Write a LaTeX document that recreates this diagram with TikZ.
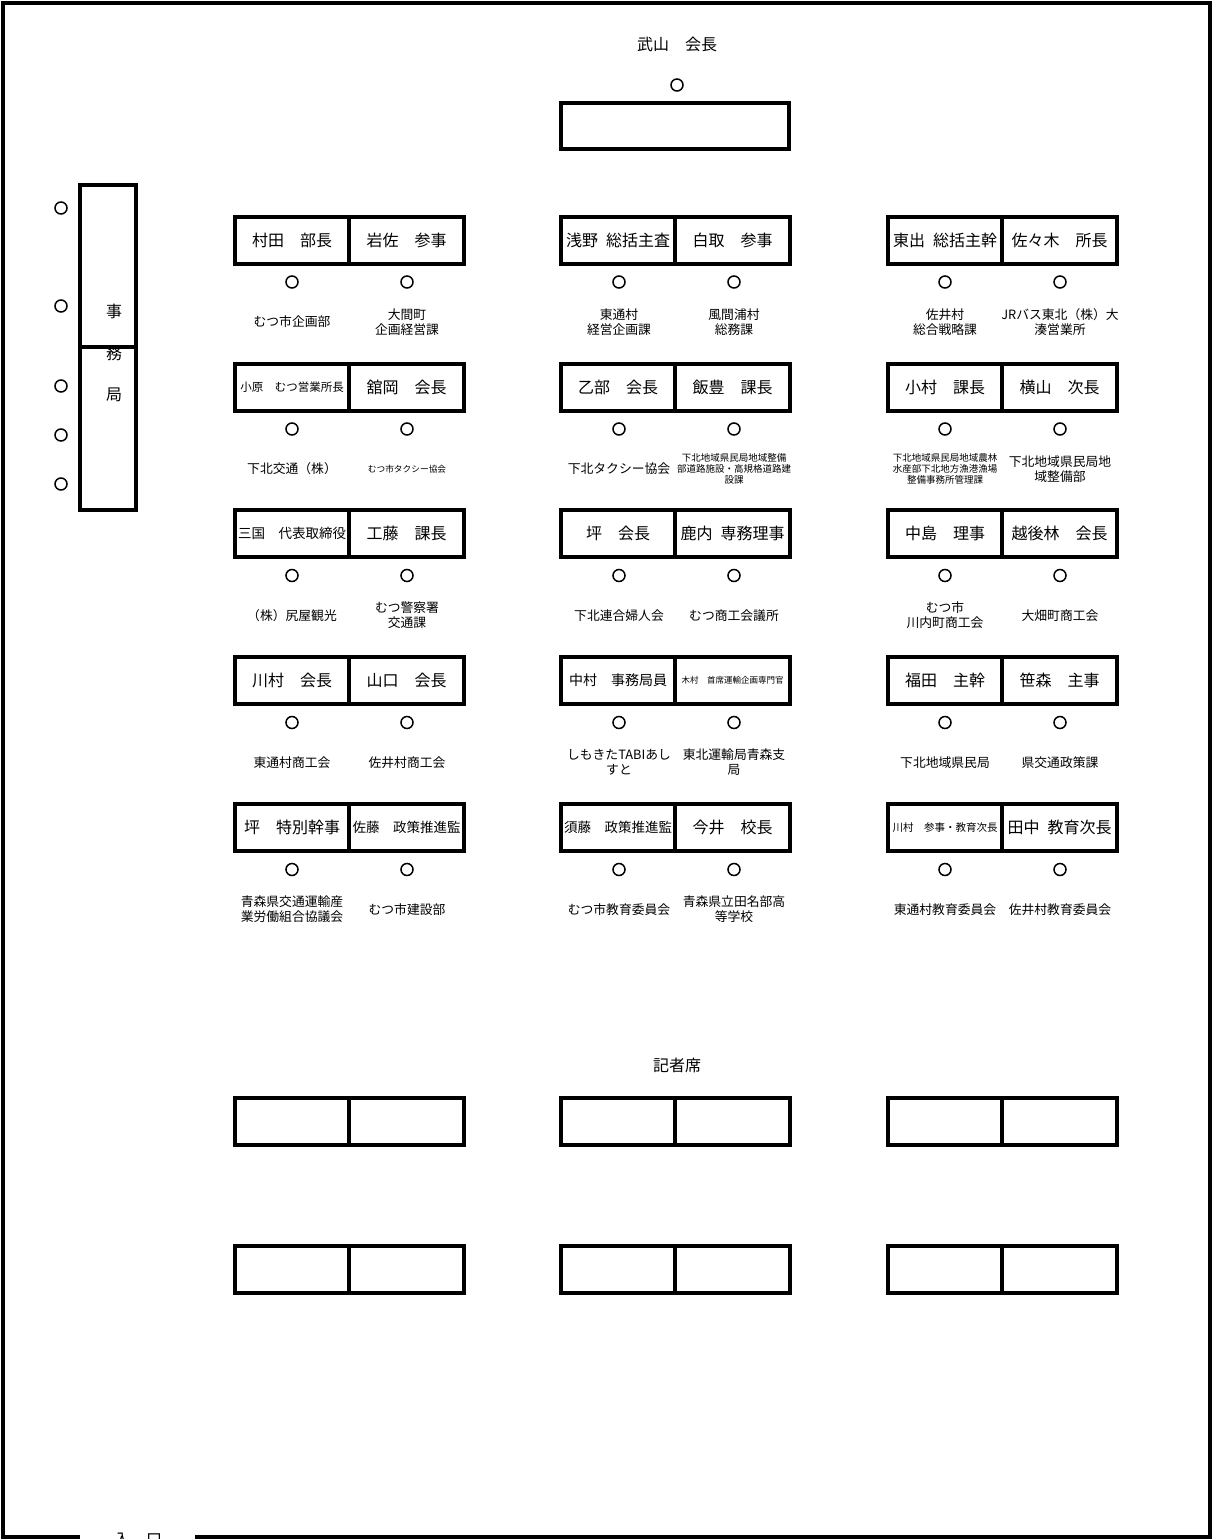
\documentclass[tikz,border=0pt]{standalone}
\usepackage{fontspec}
\setmainfont{Noto Sans CJK JP}
\usepackage{tikz}

\begin{document}
\begin{tikzpicture}[x=1pt,y=-1pt,
  seat/.style={draw,line width=4pt,minimum width=114.5pt,minimum height=47pt,inner sep=0pt,font=\fontsize{16}{19}\selectfont},
  ring/.style={draw,circle,line width=1.5pt,minimum size=12pt,inner sep=0pt},
  org/.style={align=center,inner sep=0pt,font=\fontsize{12.8}{15}\selectfont},
  orgsm/.style={org,font=\fontsize{9.5}{11}\selectfont},
  big/.style={font=\fontsize{16}{19}\selectfont}]

\useasboundingbox (0,0) rectangle (1213,1539);

% Room outline with the door gap
\draw[line width=4pt] (80,1537) -- (3,1537) -- (3,3) -- (1210,3) -- (1210,1537) -- (195,1537);
\node[big] (door) at (138,1540) {入\quad 口};

% Chairman
\node[big] (chairlbl) at (677,44) {武山\quad 会長};
\node[ring] (chairc) at (677,85) {};
\node[draw,line width=4pt,minimum width=228pt,minimum height=46pt] (chair) at (675,126) {};

% Secretariat
\node[big] (je) at (114,311) {事};
\node[big] (mu) at (114,353) {務};
\node[big] (kyoku) at (114,395) {局};
\node[draw,line width=4pt,minimum width=56pt,minimum height=162pt,inner sep=0pt] (office1) at (108.3,265.7) {};
\node[draw,line width=4pt,minimum width=56pt,minimum height=163pt,inner sep=0pt] (office2) at (108.3,428.2) {};
\node[ring] (oc1) at (61,208) {};
\node[ring] (oc2) at (61,306) {};
\node[ring] (oc3) at (61,386) {};
\node[ring] (oc4) at (61,435) {};
\node[ring] (oc5) at (61,484) {};

% Row 1
\node[seat] (L1a) at (292,240) {村田\quad 部長};
\node[seat] (L1b) at (406.5,240) {岩佐\quad 参事};
\node[seat] (M1a) at (618,240) {浅野\enspace 総括主査};
\node[seat] (M1b) at (732.5,240) {白取\quad 参事};
\node[seat] (R1a) at (945,240) {東出\enspace 総括主幹};
\node[seat] (R1b) at (1059.5,240) {佐々木\quad 所長};
\node[ring] (L1ac) at (292,282) {};
\node[ring] (L1bc) at (407,282) {};
\node[ring] (M1ac) at (619,282) {};
\node[ring] (M1bc) at (734,282) {};
\node[ring] (R1ac) at (945,282) {};
\node[ring] (R1bc) at (1060,282) {};
\node[org] (L1ao) at (292,322) {むつ市企画部};
\node[org] (L1bo) at (407,322) {大間町\\企画経営課};
\node[org] (M1ao) at (619,322) {東通村\\経営企画課};
\node[org] (M1bo) at (734,322) {風間浦村\\総務課};
\node[org] (R1ao) at (945,322) {佐井村\\総合戦略課};
\node[org] (R1bo) at (1060,322) {JRバス東北（株）大\\湊営業所};

% Row 2
\node[seat,font=\fontsize{11.5}{14}\selectfont] (L2a) at (292,387) {小原\quad むつ営業所長};
\node[seat] (L2b) at (406.5,387) {舘岡\quad 会長};
\node[seat] (M2a) at (618,387) {乙部\quad 会長};
\node[seat] (M2b) at (732.5,387) {飯豊\quad 課長};
\node[seat] (R2a) at (945,387) {小村\quad 課長};
\node[seat] (R2b) at (1059.5,387) {横山\quad 次長};
\node[ring] (L2ac) at (292,429) {};
\node[ring] (L2bc) at (407,429) {};
\node[ring] (M2ac) at (619,429) {};
\node[ring] (M2bc) at (734,429) {};
\node[ring] (R2ac) at (945,429) {};
\node[ring] (R2bc) at (1060,429) {};
\node[org] (L2ao) at (292,469) {下北交通（株）};
\node[org,font=\fontsize{8.7}{11}\selectfont] (L2bo) at (407,469) {むつ市タクシー協会};
\node[org] (M2ao) at (619,469) {下北タクシー協会};
\node[orgsm] (M2bo) at (734,469) {下北地域県民局地域整備\\部道路施設・高規格道路建\\設課};
\node[orgsm] (R2ao) at (945,469) {下北地域県民局地域農林\\水産部下北地方漁港漁場\\整備事務所管理課};
\node[org] (R2bo) at (1060,469) {下北地域県民局地\\域整備部};

% Row 3
\node[seat,font=\fontsize{13.5}{16}\selectfont] (L3a) at (292,533.5) {三国\quad 代表取締役};
\node[seat] (L3b) at (406.5,533.5) {工藤\quad 課長};
\node[seat] (M3a) at (618,533.5) {坪\quad 会長};
\node[seat] (M3b) at (732.5,533.5) {鹿内\enspace 専務理事};
\node[seat] (R3a) at (945,533.5) {中島\quad 理事};
\node[seat] (R3b) at (1059.5,533.5) {越後林\quad 会長};
\node[ring] (L3ac) at (292,575.5) {};
\node[ring] (L3bc) at (407,575.5) {};
\node[ring] (M3ac) at (619,575.5) {};
\node[ring] (M3bc) at (734,575.5) {};
\node[ring] (R3ac) at (945,575.5) {};
\node[ring] (R3bc) at (1060,575.5) {};
\node[org] (L3ao) at (292,615.5) {（株）尻屋観光};
\node[org] (L3bo) at (407,615.5) {むつ警察署\\交通課};
\node[org] (M3ao) at (619,615.5) {下北連合婦人会};
\node[org] (M3bo) at (734,615.5) {むつ商工会議所};
\node[org] (R3ao) at (945,615.5) {むつ市\\川内町商工会};
\node[org] (R3bo) at (1060,615.5) {大畑町商工会};

% Row 4
\node[seat] (L4a) at (292,680.5) {川村\quad 会長};
\node[seat] (L4b) at (406.5,680.5) {山口\quad 会長};
\node[seat,font=\fontsize{14}{17}\selectfont] (M4a) at (618,680.5) {中村\quad 事務局員};
\node[seat,font=\fontsize{8.5}{10}\selectfont] (M4b) at (732.5,680.5) {木村\quad 首席運輸企画専門官};
\node[seat] (R4a) at (945,680.5) {福田\quad 主幹};
\node[seat] (R4b) at (1059.5,680.5) {笹森\quad 主事};
\node[ring] (L4ac) at (292,722.5) {};
\node[ring] (L4bc) at (407,722.5) {};
\node[ring] (M4ac) at (619,722.5) {};
\node[ring] (M4bc) at (734,722.5) {};
\node[ring] (R4ac) at (945,722.5) {};
\node[ring] (R4bc) at (1060,722.5) {};
\node[org] (L4ao) at (292,762.5) {東通村商工会};
\node[org] (L4bo) at (407,762.5) {佐井村商工会};
\node[org] (M4ao) at (619,762.5) {しもきたTABIあし\\すと};
\node[org] (M4bo) at (734,762.5) {東北運輸局青森支\\局};
\node[org] (R4ao) at (945,762.5) {下北地域県民局};
\node[org] (R4bo) at (1060,762.5) {県交通政策課};

% Row 5
\node[seat] (L5a) at (292,827.5) {坪\quad 特別幹事};
\node[seat,font=\fontsize{13.5}{16}\selectfont] (L5b) at (406.5,827.5) {佐藤\quad 政策推進監};
\node[seat,font=\fontsize{13.5}{16}\selectfont] (M5a) at (618,827.5) {須藤\quad 政策推進監};
\node[seat] (M5b) at (732.5,827.5) {今井\quad 校長};
\node[seat,font=\fontsize{10.5}{13}\selectfont] (R5a) at (945,827.5) {川村\quad 参事・教育次長};
\node[seat] (R5b) at (1059.5,827.5) {田中\enspace 教育次長};
\node[ring] (L5ac) at (292,869.5) {};
\node[ring] (L5bc) at (407,869.5) {};
\node[ring] (M5ac) at (619,869.5) {};
\node[ring] (M5bc) at (734,869.5) {};
\node[ring] (R5ac) at (945,869.5) {};
\node[ring] (R5bc) at (1060,869.5) {};
\node[org] (L5ao) at (292,909.5) {青森県交通運輸産\\業労働組合協議会};
\node[org] (L5bo) at (407,909.5) {むつ市建設部};
\node[org] (M5ao) at (619,909.5) {むつ市教育委員会};
\node[org] (M5bo) at (734,909.5) {青森県立田名部高\\等学校};
\node[org] (R5ao) at (945,909.5) {東通村教育委員会};
\node[org] (R5bo) at (1060,909.5) {佐井村教育委員会};

% Press seats
\node[big] (press) at (677,1065) {記者席};
\node[seat] (P1a) at (292,1121.5) {};
\node[seat] (P1b) at (406.5,1121.5) {};
\node[seat] (P1c) at (618,1121.5) {};
\node[seat] (P1d) at (732.5,1121.5) {};
\node[seat] (P1e) at (945,1121.5) {};
\node[seat] (P1f) at (1059.5,1121.5) {};
\node[seat] (P2a) at (292,1269) {};
\node[seat] (P2b) at (406.5,1269) {};
\node[seat] (P2c) at (618,1269) {};
\node[seat] (P2d) at (732.5,1269) {};
\node[seat] (P2e) at (945,1269) {};
\node[seat] (P2f) at (1059.5,1269) {};

\end{tikzpicture}
\end{document}
